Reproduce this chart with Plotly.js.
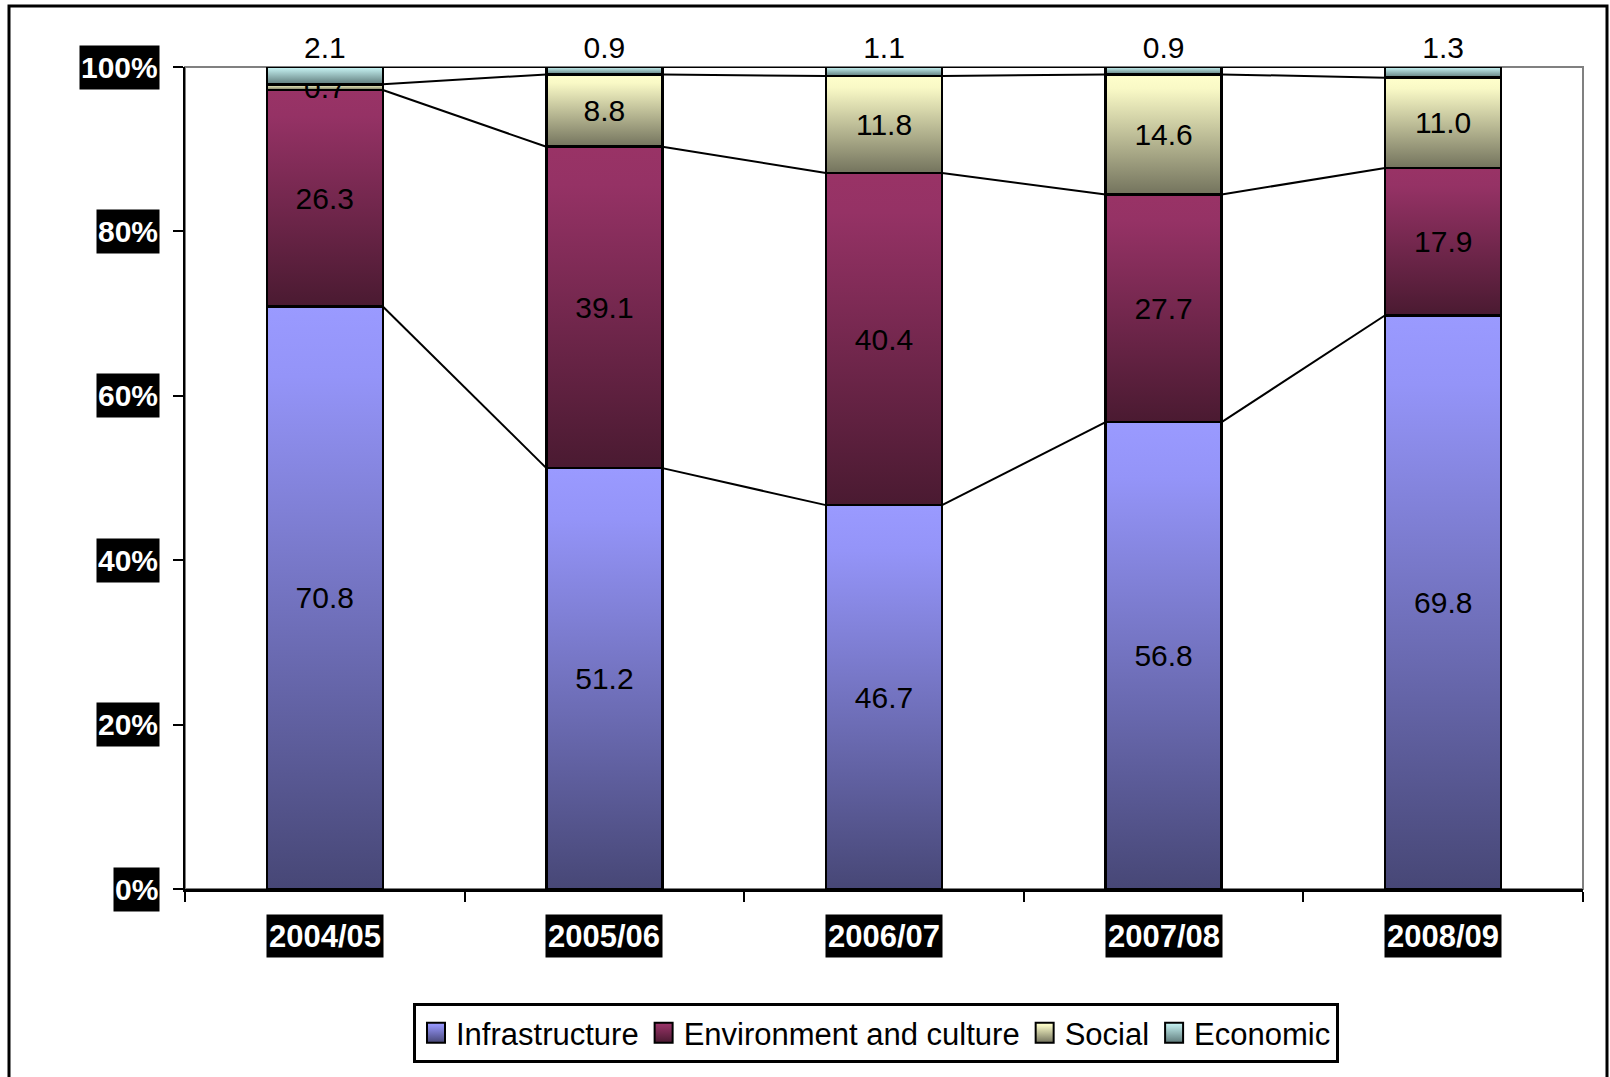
<!DOCTYPE html>
<html>
<head>
<meta charset="utf-8">
<script src="https://cdn.plot.ly/plotly-3.0.1.min.js"></script>
<style>
  html, body { margin: 0; padding: 0; background: #ffffff; }
  #chart { width: 1610px; height: 1077px; }
</style>
</head>
<body>
<div id="chart"></div>
<script>
// ---- data ----
const categories = ['2004/05', '2005/06', '2006/07', '2007/08', '2008/09'];
const infrastructure = [70.8, 51.2, 46.7, 56.8, 69.8];
const environmentCulture = [26.3, 39.1, 40.4, 27.7, 17.9];
const social = [0.7, 8.8, 11.8, 14.6, 11.0];
const economic = [2.1, 0.9, 1.1, 0.9, 1.3];
const seriesNames = ['Infrastructure', 'Environment and culture', 'Social', 'Economic'];
const yTickValues = [0, 20, 40, 60, 80, 100];
const yTickLabels = ['0%', '20%', '40%', '60%', '80%', '100%'];

// ---- styling ----
const FONT = 'Liberation Sans, Arial, sans-serif';
const BAR_WIDTH = 0.415;
const gradients = [
  ['#9a9aff', '#9494f8', '#474776'],
  ['#993366', '#953265', '#4a1a31'],
  ['#ffffcc', '#f9f9c6', '#73735d'],
  ['#ccffff', '#bde8e8', '#5f7b7b']
];

const xIdx = categories.map((c, i) => i);
const allSeries = [infrastructure, environmentCulture, social, economic];
const totals = xIdx.map(i => allSeries.reduce((s, arr) => s + arr[i], 0));

const traces = [];
allSeries.forEach((vals, k) => {
  traces.push({
    type: 'bar',
    name: seriesNames[k],
    x: xIdx,
    y: vals,
    width: BAR_WIDTH,
    text: vals.map(v => v.toFixed(1)),
    texttemplate: '%{text}',
    textposition: k === 3 ? 'outside' : 'inside',
    insidetextanchor: 'middle',
    constraintext: 'none',
    textangle: 0,
    textfont: { family: FONT, size: 30, color: '#000000' },
    insidetextfont: { family: FONT, size: 30, color: '#000000' },
    outsidetextfont: { family: FONT, size: 30, color: '#000000' },
    marker: { color: gradients[k][1], line: { color: '#000000', width: 2.5 } },
    cliponaxis: false,
    hoverinfo: 'skip'
  });
});

// series lines connecting the top of each series between adjacent bars
let cum = xIdx.map(() => 0);
allSeries.forEach((vals, k) => {
  cum = cum.map((c, i) => c + vals[i] / totals[i] * 100);
  const lx = [], ly = [];
  for (let i = 0; i < categories.length - 1; i++) {
    lx.push(i + BAR_WIDTH / 2, i + 1 - BAR_WIDTH / 2, null);
    ly.push(cum[i], cum[i + 1], null);
  }
  traces.push({
    type: 'scatter', mode: 'lines', x: lx, y: ly,
    line: { color: '#000000', width: 2 },
    showlegend: false, hoverinfo: 'skip', cliponaxis: false
  });
});

const annotations = [];
yTickValues.forEach((v, i) => {
  annotations.push({
    xref: 'paper', yref: 'y', x: 0, y: v, xanchor: 'right', yanchor: 'middle',
    xshift: -25, text: yTickLabels[i], showarrow: false,
    bgcolor: '#000000', borderpad: 1, height: 41,
    font: { family: FONT, size: 30, color: '#ffffff', weight: 'bold' }
  });
});
categories.forEach((c, i) => {
  annotations.push({
    xref: 'x', yref: 'paper', x: i, y: 0, xanchor: 'center', yanchor: 'middle',
    yshift: -47, text: c, showarrow: false,
    bgcolor: '#000000', borderpad: 2, height: 38,
    font: { family: FONT, size: 31, color: '#ffffff', weight: 'bold' }
  });
});

const L = 185, R = 27, T = 67, B = 188;
const PW = 1610 - L - R, PH = 1077 - T - B;
const px = x => (x - L) / PW;
const py = y => (1077 - B - y) / PH;

const layout = {
  width: 1610, height: 1077,
  margin: { l: L, r: R, t: T, b: B, pad: 0 },
  paper_bgcolor: '#ffffff', plot_bgcolor: '#ffffff',
  barmode: 'stack', barnorm: 'percent',
  showlegend: true,
  hovermode: false,
  font: { family: FONT, color: '#000000' },
  xaxis: {
    type: 'linear', range: [-0.5, categories.length - 0.5],
    tickmode: 'array', tickvals: [-0.5, 0.5, 1.5, 2.5, 3.5, 4.5],
    showticklabels: false, ticks: 'outside', ticklen: 10, tickwidth: 2, tickcolor: '#000000',
    showline: true, linecolor: '#000000', linewidth: 3,
    showgrid: false, zeroline: false, fixedrange: true
  },
  yaxis: {
    range: [0, 100.0005], tickmode: 'array', tickvals: yTickValues,
    showticklabels: false, ticks: 'outside', ticklen: 10, tickwidth: 2, tickcolor: '#000000',
    showline: true, linecolor: '#000000', linewidth: 2,
    showgrid: false, zeroline: false, fixedrange: true
  },
  legend: {
    orientation: 'h', x: px(876), y: py(1003), xanchor: 'center', yanchor: 'top',
    bgcolor: '#ffffff', bordercolor: '#000000', borderwidth: 3,
    font: { family: FONT, size: 31, color: '#000000' },
    traceorder: 'normal', itemclick: false, itemdoubleclick: false
  },
  annotations: annotations,
  shapes: [
    { type: 'rect', xref: 'paper', yref: 'paper', x0: 0, x1: 1, y0: 0, y1: 1,
      line: { color: '#808080', width: 2 }, layer: 'below' },
    { type: 'rect', xref: 'paper', yref: 'paper', x0: px(9), x1: px(1607), y0: py(1100), y1: py(6),
      line: { color: '#000000', width: 3 }, layer: 'below' }
  ]
};

Plotly.newPlot('chart', traces, layout, { staticPlot: true, displayModeBar: false }).then(gd => {
  const svg = gd.querySelector('svg.main-svg');
  const NS = 'http://www.w3.org/2000/svg';
  let defs = svg.querySelector('defs');
  if (!defs) { defs = document.createElementNS(NS, 'defs'); svg.insertBefore(defs, svg.firstChild); }
  gradients.forEach((g, k) => {
    const lg = document.createElementNS(NS, 'linearGradient');
    lg.setAttribute('id', 'grad' + k);
    lg.setAttribute('x1', '0'); lg.setAttribute('y1', '0');
    lg.setAttribute('x2', '0'); lg.setAttribute('y2', '1');
    [[0, g[0]], [0.12, g[1]], [1, g[2]]].forEach(([o, c]) => {
      const s = document.createElementNS(NS, 'stop');
      s.setAttribute('offset', o); s.setAttribute('stop-color', c);
      lg.appendChild(s);
    });
    defs.appendChild(lg);
  });
  const barTraces = gd.querySelectorAll('.barlayer .trace');
  barTraces.forEach((t, k) => {
    t.querySelectorAll('.point path').forEach(p => { p.style.fill = 'url(#grad' + k + ')'; });
  });
  const legendTraces = gd.querySelectorAll('.legend .traces');
  legendTraces.forEach((t, k) => {
    t.querySelectorAll('.legendpoints path').forEach(p => {
      p.setAttribute('d', 'M9,10H-9V-10H9Z');
      p.style.fill = 'url(#grad' + k + ')';
      p.style.stroke = '#000000';
      p.style.strokeWidth = '2px';
    });
  });
});
</script>
</body>
</html>
